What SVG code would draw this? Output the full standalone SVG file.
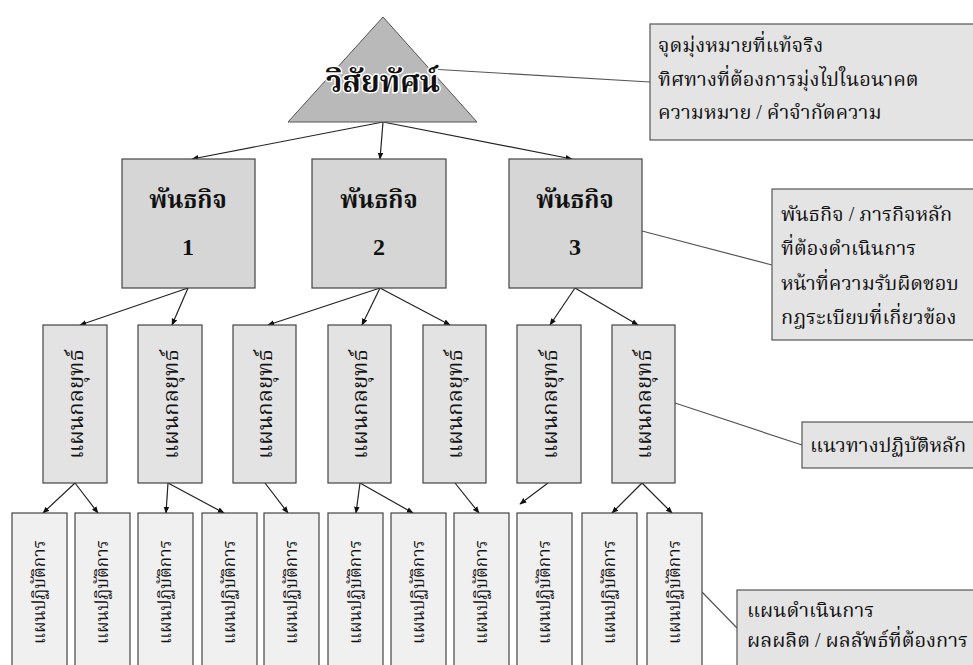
<svg xmlns="http://www.w3.org/2000/svg" width="973" height="665" viewBox="0 0 973 665">
<defs>
<marker id="ah" viewBox="0 0 10 10" refX="9" refY="5" markerWidth="7" markerHeight="7" orient="auto" markerUnits="userSpaceOnUse"><path d="M0,1 L10,5 L0,9 Z" fill="#111"/></marker>
<style>
text{font-family:"Liberation Serif","Noto Serif Thai","Noto Sans Thai",serif;fill:#111}
.box{stroke:#444;stroke-width:1.2}
.tri{fill:#b9b9b9;stroke:#555;stroke-width:1}
.mis{fill:#d6d6d6}
.str{fill:#e3e3e3}
.op{fill:#f0f0f0}
.info{fill:#e4e4e4;stroke:#555;stroke-width:1.2}
.arr{stroke:#222;stroke-width:1.2;fill:none;marker-end:url(#ah)}
.lnk{stroke:#555;stroke-width:1.2;fill:none}
.big{font-size:30px;font-weight:bold;text-anchor:middle;stroke:#fff;stroke-width:3px;paint-order:stroke}
.mt{font-size:24px;font-weight:bold;text-anchor:middle}
.vt{font-size:22px;text-anchor:middle;dominant-baseline:central}
.ot{font-size:17px;text-anchor:middle;dominant-baseline:central}
.it{font-size:20px}
</style>
</defs>
<rect width="973" height="665" fill="#fff"/>

<g id="connectors">
<line class="arr" x1="383" y1="122" x2="192" y2="159"/>
<line class="arr" x1="383" y1="122" x2="380" y2="159"/>
<line class="arr" x1="383" y1="122" x2="572" y2="159"/>
<line class="arr" x1="188" y1="288" x2="80" y2="325"/>
<line class="arr" x1="188" y1="288" x2="172" y2="325"/>
<line class="arr" x1="380" y1="288" x2="268" y2="325"/>
<line class="arr" x1="380" y1="288" x2="362" y2="325"/>
<line class="arr" x1="380" y1="288" x2="450" y2="325"/>
<line class="arr" x1="575" y1="288" x2="550" y2="325"/>
<line class="arr" x1="575" y1="288" x2="638" y2="325"/>
<line class="arr" x1="75" y1="483" x2="43" y2="513"/>
<line class="arr" x1="75" y1="483" x2="98" y2="513"/>
<line class="arr" x1="168" y1="483" x2="166" y2="513"/>
<line class="arr" x1="168" y1="483" x2="224" y2="513"/>
<line class="arr" x1="265" y1="483" x2="288" y2="513"/>
<line class="arr" x1="360" y1="483" x2="356" y2="513"/>
<line class="arr" x1="360" y1="483" x2="413" y2="513"/>
<line class="arr" x1="455" y1="483" x2="479" y2="513"/>
<line class="arr" x1="548" y1="483" x2="520" y2="504"/>
<line class="arr" x1="642" y1="483" x2="612" y2="513"/>
<line class="arr" x1="642" y1="483" x2="672" y2="513"/>
<line class="lnk" x1="430" y1="69" x2="650" y2="82"/>
<line class="lnk" x1="642" y1="231" x2="772" y2="265"/>
<line class="lnk" x1="675" y1="403" x2="802" y2="445"/>
<line class="lnk" x1="702" y1="592" x2="737" y2="628"/>
</g>

<g id="vision">
<polygon class="tri" points="383,17 477,122 288,122"/>
<text class="big" x="383" y="92">วิสัยทัศน์</text>
</g>

<g id="info-vision">
<rect class="info" x="650" y="24" width="330" height="116"/>
<text class="it" x="658" y="52">จุดมุ่งหมายที่แท้จริง</text>
<text class="it" x="658" y="86">ทิศทางที่ต้องการมุ่งไปในอนาคต</text>
<text class="it" x="658" y="119">ความหมาย / คำจำกัดความ</text>
</g>

<g id="mission1"><rect class="box mis" x="122" y="159" width="133" height="129"/><text class="mt" x="188" y="208">พันธกิจ</text><text class="mt" x="188" y="255">1</text></g>
<g id="mission2"><rect class="box mis" x="312" y="159" width="134" height="129"/><text class="mt" x="379" y="208">พันธกิจ</text><text class="mt" x="379" y="255">2</text></g>
<g id="mission3"><rect class="box mis" x="509" y="159" width="133" height="129"/><text class="mt" x="575" y="208">พันธกิจ</text><text class="mt" x="575" y="255">3</text></g>

<g id="info-mission">
<rect class="info" x="772" y="189" width="210" height="151"/>
<text class="it" x="781" y="221">พันธกิจ / ภารกิจหลัก</text>
<text class="it" x="781" y="255">ที่ต้องดำเนินการ</text>
<text class="it" x="781" y="290">หน้าที่ความรับผิดชอบ</text>
<text class="it" x="781" y="324">กฎระเบียบที่เกี่ยวข้อง</text>
</g>

<g id="strategy1"><rect class="box str" x="43" y="325" width="64" height="158"/><text class="vt" transform="translate(75,404) rotate(-90)">แผนกลยุทธ์</text></g>
<g id="strategy2"><rect class="box str" x="138" y="325" width="64" height="158"/><text class="vt" transform="translate(170,404) rotate(-90)">แผนกลยุทธ์</text></g>
<g id="strategy3"><rect class="box str" x="233" y="325" width="63" height="158"/><text class="vt" transform="translate(264.5,404) rotate(-90)">แผนกลยุทธ์</text></g>
<g id="strategy4"><rect class="box str" x="328" y="325" width="63" height="158"/><text class="vt" transform="translate(359.5,404) rotate(-90)">แผนกลยุทธ์</text></g>
<g id="strategy5"><rect class="box str" x="423" y="325" width="63" height="158"/><text class="vt" transform="translate(454.5,404) rotate(-90)">แผนกลยุทธ์</text></g>
<g id="strategy6"><rect class="box str" x="517" y="325" width="64" height="158"/><text class="vt" transform="translate(549,404) rotate(-90)">แผนกลยุทธ์</text></g>
<g id="strategy7"><rect class="box str" x="612" y="325" width="63" height="158"/><text class="vt" transform="translate(643.5,404) rotate(-90)">แผนกลยุทธ์</text></g>

<g id="info-strategy">
<rect class="info" x="802" y="422" width="180" height="46"/>
<text class="it" x="810" y="452">แนวทางปฏิบัติหลัก</text>
</g>

<g id="op1"><rect class="box op" x="12" y="513" width="55" height="170"/><text class="ot" transform="translate(39.5,592) rotate(-90)">แผนปฏิบัติการ</text></g>
<g id="op2"><rect class="box op" x="75" y="513" width="55" height="170"/><text class="ot" transform="translate(102.5,592) rotate(-90)">แผนปฏิบัติการ</text></g>
<g id="op3"><rect class="box op" x="138" y="513" width="55" height="170"/><text class="ot" transform="translate(165.5,592) rotate(-90)">แผนปฏิบัติการ</text></g>
<g id="op4"><rect class="box op" x="202" y="513" width="55" height="170"/><text class="ot" transform="translate(229.5,592) rotate(-90)">แผนปฏิบัติการ</text></g>
<g id="op5"><rect class="box op" x="264" y="513" width="55" height="170"/><text class="ot" transform="translate(291.5,592) rotate(-90)">แผนปฏิบัติการ</text></g>
<g id="op6"><rect class="box op" x="328" y="513" width="55" height="170"/><text class="ot" transform="translate(355.5,592) rotate(-90)">แผนปฏิบัติการ</text></g>
<g id="op7"><rect class="box op" x="391" y="513" width="55" height="170"/><text class="ot" transform="translate(418.5,592) rotate(-90)">แผนปฏิบัติการ</text></g>
<g id="op8"><rect class="box op" x="454" y="513" width="55" height="170"/><text class="ot" transform="translate(481.5,592) rotate(-90)">แผนปฏิบัติการ</text></g>
<g id="op9"><rect class="box op" x="517" y="513" width="55" height="170"/><text class="ot" transform="translate(544.5,592) rotate(-90)">แผนปฏิบัติการ</text></g>
<g id="op10"><rect class="box op" x="582" y="513" width="55" height="170"/><text class="ot" transform="translate(609.5,592) rotate(-90)">แผนปฏิบัติการ</text></g>
<g id="op11"><rect class="box op" x="647" y="513" width="55" height="170"/><text class="ot" transform="translate(674.5,592) rotate(-90)">แผนปฏิบัติการ</text></g>

<g id="info-op">
<rect class="info" x="737" y="590" width="245" height="90"/>
<text class="it" x="747" y="617">แผนดำเนินการ</text>
<text class="it" x="747" y="647">ผลผลิต / ผลลัพธ์ที่ต้องการ</text>
</g>
</svg>
